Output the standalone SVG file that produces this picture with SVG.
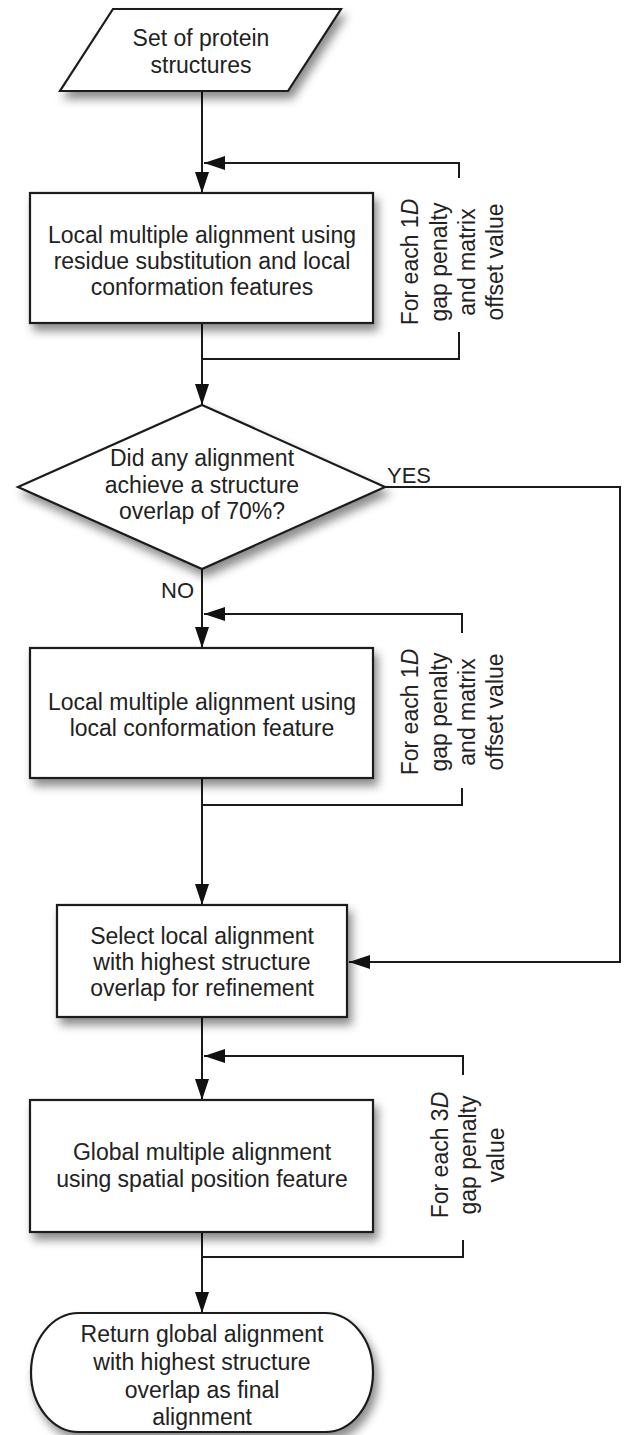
<svg xmlns="http://www.w3.org/2000/svg" width="624" height="1435" viewBox="0 0 624 1435">
<style>
.shape{fill:#fff;stroke:#1a1a1a;stroke-width:2.2;filter:url(#sh)}
.t{font-family:"Liberation Sans",Arial,sans-serif;font-size:23px;fill:#222;text-anchor:middle}
.lbl{font-family:"Liberation Sans",Arial,sans-serif;font-size:22px;fill:#222}
.c{fill:none;stroke:#1a1a1a;stroke-width:2}
.a{marker-end:url(#ah)}
</style>
<defs>
<filter id="sh" x="-10%" y="-10%" width="130%" height="145%">
<feDropShadow dx="4" dy="7" stdDeviation="5" flood-color="#000" flood-opacity="0.45"/>
</filter>
<marker id="ah" markerUnits="userSpaceOnUse" markerWidth="21" markerHeight="14" refX="21" refY="7" orient="auto">
<path d="M0,0 L21,7 L0,14 z" fill="#111"/>
</marker>
</defs>

<g id="connectors">
<path class="c a" d="M202,91 V193"/>
<path class="c a" d="M459,178 V163 H204"/>
<path class="c a" d="M202,323 V405"/>
<path class="c" d="M459,332 V359 H202"/>
<path class="c a" d="M385,487 H620 V962 H349"/>
<path class="c a" d="M202,569 V648"/>
<path class="c a" d="M462,633 V614 H204"/>
<path class="c a" d="M202,778 V905"/>
<path class="c" d="M462,788 V805 H202"/>
<path class="c a" d="M202,1017 V1100"/>
<path class="c a" d="M463,1075 V1056 H204"/>
<path class="c a" d="M202,1232 V1313"/>
<path class="c" d="M463,1240 V1257 H202"/>
<text class="lbl" x="387" y="483">YES</text>
<text class="lbl" x="161" y="598">NO</text>
</g>

<g id="input">
<polygon class="shape" points="113,9 341,9 288,91 60,91"/>
<text class="t" x="201" y="46">Set of protein</text>
<text class="t" x="201" y="73">structures</text>
</g>

<g id="local1">
<rect class="shape" x="30" y="193" width="343" height="130"/>
<text class="t" x="202" y="243">Local multiple alignment using</text>
<text class="t" x="202" y="269">residue substitution and local</text>
<text class="t" x="202" y="295">conformation features</text>
</g>

<g id="loop1">
<g class="t" transform="translate(0,262)">
<text transform="translate(418,0) rotate(-90)">For each 1<tspan font-style="italic">D</tspan></text>
<text transform="translate(447,0) rotate(-90)">gap penalty</text>
<text transform="translate(475,0) rotate(-90)">and matrix</text>
<text transform="translate(503,0) rotate(-90)">offset value</text>
</g>
</g>

<g id="decision">
<polygon class="shape" points="202,405 385,487 202,569 18,487"/>
<text class="t" x="202" y="466">Did any alignment</text>
<text class="t" x="202" y="493">achieve a structure</text>
<text class="t" x="202" y="519">overlap of 70%?</text>
</g>

<g id="local2">
<rect class="shape" x="30" y="648" width="343" height="130"/>
<text class="t" x="202" y="710">Local multiple alignment using</text>
<text class="t" x="202" y="736">local conformation feature</text>
</g>

<g id="loop2">
<g class="t" transform="translate(0,712)">
<text transform="translate(418,0) rotate(-90)">For each 1<tspan font-style="italic">D</tspan></text>
<text transform="translate(447,0) rotate(-90)">gap penalty</text>
<text transform="translate(475,0) rotate(-90)">and matrix</text>
<text transform="translate(503,0) rotate(-90)">offset value</text>
</g>
</g>

<g id="select">
<rect class="shape" x="57" y="905" width="290" height="112"/>
<text class="t" x="202" y="944">Select local alignment</text>
<text class="t" x="202" y="970">with highest structure</text>
<text class="t" x="202" y="996">overlap for refinement</text>
</g>

<g id="global">
<rect class="shape" x="30" y="1100" width="343" height="132"/>
<text class="t" x="202" y="1160">Global multiple alignment</text>
<text class="t" x="202" y="1187">using spatial position feature</text>
</g>

<g id="loop3">
<g class="t" transform="translate(0,1155)">
<text transform="translate(448,0) rotate(-90)">For each 3<tspan font-style="italic">D</tspan></text>
<text transform="translate(476,0) rotate(-90)">gap penalty</text>
<text transform="translate(504,0) rotate(-90)">value</text>
</g>
</g>

<g id="result">
<rect class="shape" x="31" y="1313" width="342" height="119" rx="48" ry="59.5"/>
<text class="t" x="202" y="1342">Return global alignment</text>
<text class="t" x="202" y="1370">with highest structure</text>
<text class="t" x="202" y="1398">overlap as final</text>
<text class="t" x="202" y="1425">alignment</text>
</g>
</svg>
